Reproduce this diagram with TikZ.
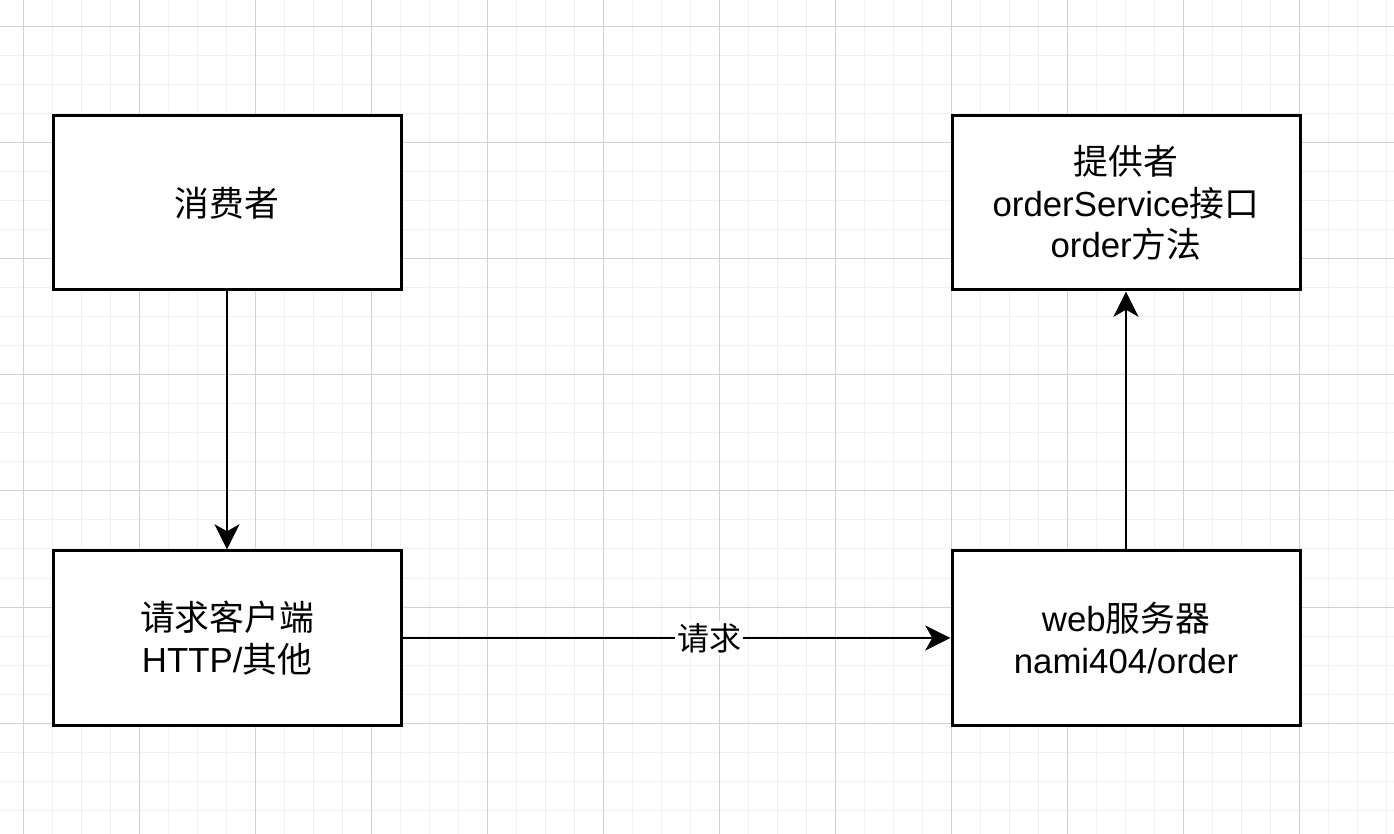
\documentclass[tikz,border=0pt]{standalone}
\usepackage{fontspec}
\setmainfont{Liberation Sans}
\newfontfamily\cjk{Noto Sans CJK SC}
\usepackage{tikz}
\usetikzlibrary{
  arrows.meta,
  positioning
}
\usepackage{xcolor}
\definecolor{lightGrid}{rgb}{0.94,0.94,0.94}
\definecolor{darkGrid}{rgb}{0.82,0.82,0.82}
\newcommand{\zh}[1]{{\cjk #1}}
\tikzset{
  box/.style={
    rectangle,
    draw,
    line width=1.5pt,
    fill=white,
    minimum width=174pt,
    minimum height=87pt,
    align=center,
    font=\fontsize{17.4}{20.9}\selectfont,
    text=black
  }
}
\tikzset{
  edgeLabel/.style={
    fill=white,
    inner sep=1pt,
    font=\fontsize{16}{19}\selectfont
  }
}
\begin{document}
\begin{tikzpicture}[>={Stealth[length=12.6pt, width=12.5pt, inset=3.5pt]},
    x=0.5pt, y=-0.5pt, node distance=129pt]
    \useasboundingbox (0,0) rectangle (1394,834);
    \fill[white] (0,0) rectangle (1394,834);
    \foreach \x in {23,52,...,1394}{
      \draw[lightGrid, line width=0.5pt] (\x,0) -- (\x,834);
    }
    \foreach \y in {27,56,...,834}{
      \draw[lightGrid, line width=0.5pt] (0,\y) -- (1394,\y);
    }
    \foreach \x in {23,139,...,1394}{
      \draw[darkGrid, line width=0.5pt] (\x,0) -- (\x,834);
    }
    \foreach \y in {27,143,...,834}{
      \draw[darkGrid, line width=0.5pt] (0,\y) -- (1394,\y);
    }
    \node[box] (consumer) at (227,203) {\zh{消费者}};
    \node[box, below=of consumer] (client) {\zh{请求客户端}\\HTTP/\zh{其他}};
    \node[box, right=274pt of client] (webServer) {web\zh{服务器}\\nami404/order};
    \node[box, above=of webServer] (provider)
      {\zh{提供者}\\orderService\zh{接口}\\order\zh{方法}};
    \draw[->, line width=1.4pt] (consumer) -- (client);
    \draw[->, line width=1.4pt] (client) -- node[edgeLabel, pos=0.56] (request) {\zh{请求}} (webServer);
    \draw[->, line width=1.4pt] (webServer) -- (provider);
\end{tikzpicture}
\end{document}
